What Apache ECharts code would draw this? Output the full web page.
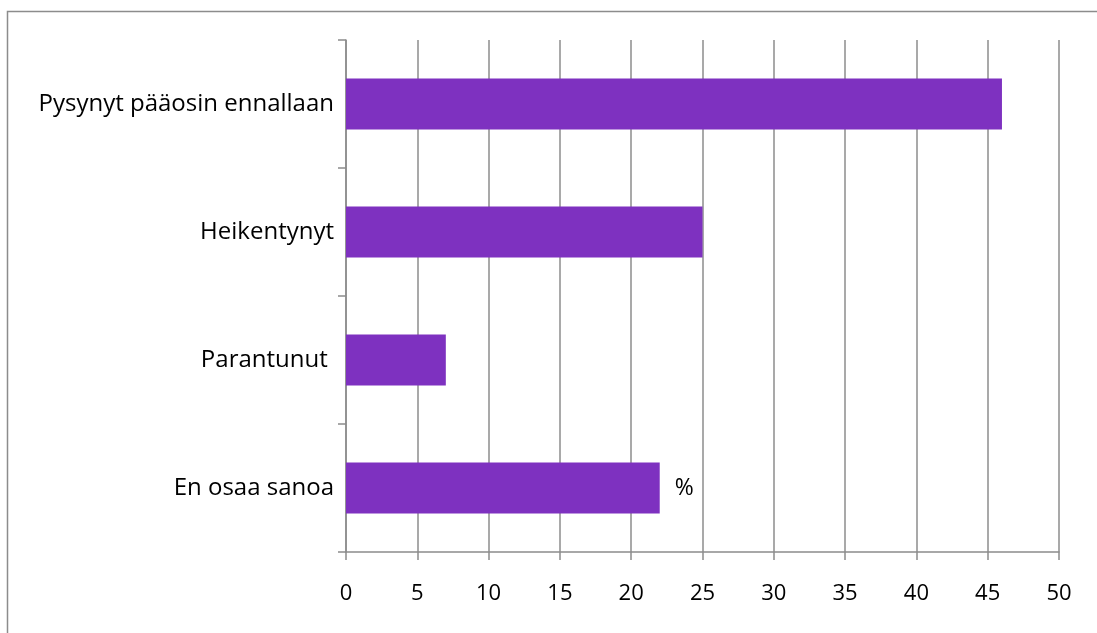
<!DOCTYPE html>
<html><head><meta charset="utf-8">
<script src="https://cdn.jsdelivr.net/npm/echarts@6/dist/echarts.min.js"></script>
<style>html,body{margin:0;padding:0;background:#fff}#c{width:1097px;height:633px}</style>
</head><body><div id="c"></div>
<script>
const categories = ["Pysynyt pääosin ennallaan", "Heikentynyt", "Parantunut ", "En osaa sanoa"];
const values = [46, 25, 7, 22];
const xTicks = [0, 5, 10, 15, 20, 25, 30, 35, 40, 45, 50];
const unitLabel = "%";

const FONT = "Open Sans";
const chart = echarts.init(document.getElementById('c'), null, {renderer: 'canvas'});
chart.setOption({
  animation: false,
  backgroundColor: '#fff',
  graphic: [{
    type: 'rect', z: -1,
    shape: {x: 7.5, y: 11.5, width: 1200, height: 800},
    style: {fill: 'none', stroke: '#8c8c8c', lineWidth: 1.5}
  }],
  grid: {left: 346, right: 38, top: 40, bottom: 81, containLabel: false},
  xAxis: {
    type: 'value', min: xTicks[0], max: xTicks[xTicks.length - 1], interval: 5,
    axisLine: {show: true, lineStyle: {color: '#8c8c8c', width: 1.5}},
    axisTick: {show: true, length: 8, lineStyle: {color: '#8c8c8c', width: 1.5}},
    splitLine: {show: true, lineStyle: {color: '#8c8c8c', width: 1.5}},
    axisLabel: {color: '#000', fontFamily: FONT, fontSize: 22, margin: 31}
  },
  yAxis: {
    type: 'category', data: categories, inverse: true,
    axisLine: {show: true, lineStyle: {color: '#8c8c8c', width: 1.5}},
    axisTick: {show: true, length: 8, lineStyle: {color: '#8c8c8c', width: 1.5}},
    axisLabel: {color: '#000', fontFamily: FONT, fontSize: 24, margin: 12}
  },
  series: [{
    type: 'bar', data: values.map((v, i) => ({
      value: v,
      label: i === values.length - 1 ? {show: true, position: 'right', distance: 15, formatter: unitLabel, color: '#000', fontFamily: FONT, fontSize: 23} : {show: false}
    })),
    barWidth: '40%',
    itemStyle: {color: '#7E31C0'}
  }]
});
</script></body></html>
